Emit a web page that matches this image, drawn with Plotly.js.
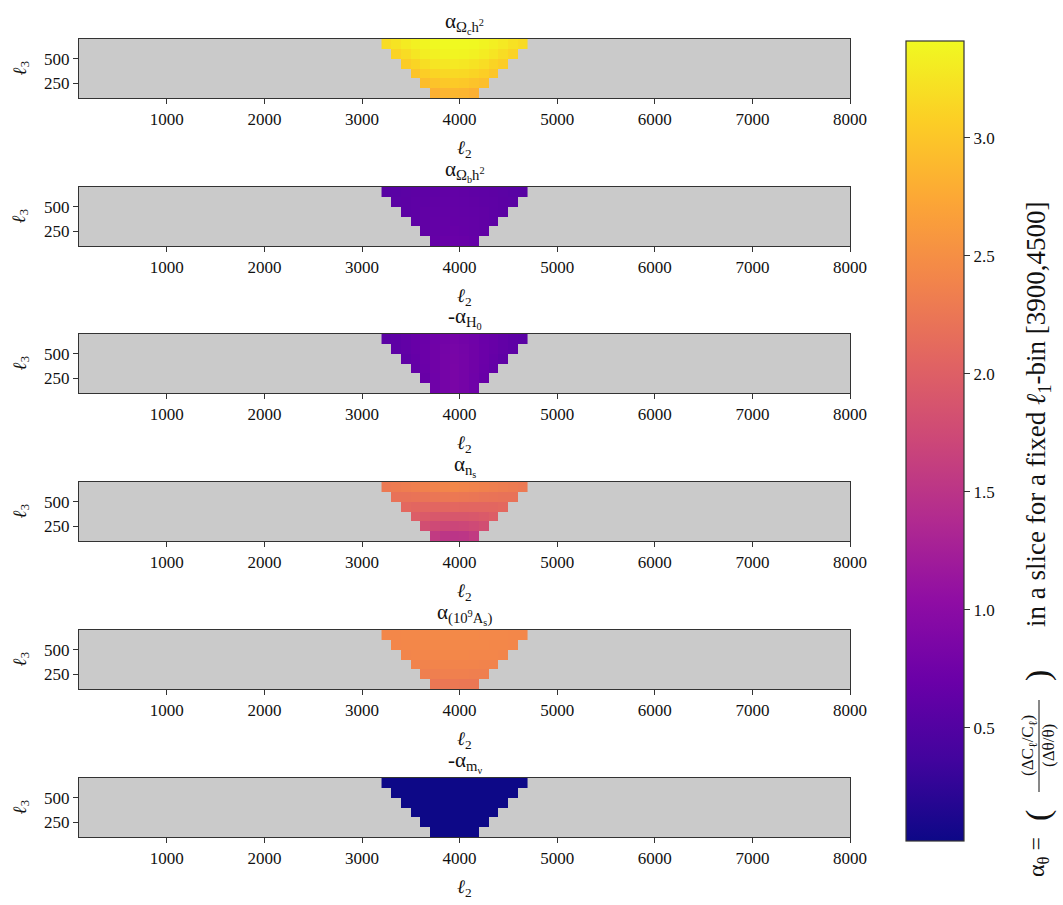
<!DOCTYPE html>
<html>
<head>
<meta charset="utf-8">
<script src="https://cdn.plot.ly/plotly-3.0.1.min.js"></script>
<style>
  html, body { margin: 0; padding: 0; background: #fff; }
  #chart { width: 1063px; height: 905px; }
</style>
</head>
<body>
<div id="chart"></div>
<script>
// l2 bin centres (bins of 100) and l3 bin centres
const L2 = [3250, 3350, 3450, 3550, 3650, 3750, 3850, 3950, 4050, 4150, 4250, 4350, 4450, 4550, 4650];
const L3 = [150, 250, 350, 450, 550, 650];
const n = null;

// alpha values, rows go l3 = 150 ... 650
const zOmegaC = [
    [n, n, n, n, n, 2.82, 2.86, 2.88, 2.86, 2.82, n, n, n, n, n],
    [n, n, n, n, 2.93, 2.98, 3.02, 3.04, 3.02, 2.98, 2.94, n, n, n, n],
    [n, n, n, 2.99, 3.06, 3.12, 3.15, 3.16, 3.15, 3.12, 3.07, 3.00, n, n, n],
    [n, n, 3.05, 3.12, 3.20, 3.25, 3.27, 3.28, 3.27, 3.24, 3.19, 3.12, 3.06, n, n],
    [n, 3.11, 3.18, 3.26, 3.32, 3.35, 3.37, 3.38, 3.37, 3.35, 3.31, 3.25, 3.18, 3.11, n],
    [3.18, 3.24, 3.30, 3.35, 3.38, 3.40, 3.41, 3.41, 3.41, 3.40, 3.37, 3.33, 3.28, 3.22, 3.17]
];
const zOmegaB = [
    [n, n, n, n, n, 0.66, 0.68, 0.69, 0.68, 0.66, n, n, n, n, n],
    [n, n, n, n, 0.62, 0.64, 0.66, 0.67, 0.66, 0.64, 0.62, n, n, n, n],
    [n, n, n, 0.60, 0.62, 0.64, 0.65, 0.66, 0.65, 0.64, 0.62, 0.60, n, n, n],
    [n, n, 0.58, 0.60, 0.62, 0.63, 0.64, 0.65, 0.64, 0.63, 0.62, 0.60, 0.58, n, n],
    [n, 0.57, 0.58, 0.60, 0.61, 0.62, 0.63, 0.64, 0.63, 0.62, 0.61, 0.60, 0.58, 0.57, n],
    [0.55, 0.56, 0.57, 0.59, 0.60, 0.61, 0.62, 0.63, 0.62, 0.61, 0.60, 0.59, 0.57, 0.56, 0.55]
];
const zH0 = [
    [n, n, n, n, n, 0.74, 0.80, 0.84, 0.80, 0.74, n, n, n, n, n],
    [n, n, n, n, 0.68, 0.74, 0.80, 0.84, 0.80, 0.74, 0.68, n, n, n, n],
    [n, n, n, 0.64, 0.70, 0.75, 0.80, 0.84, 0.80, 0.75, 0.70, 0.64, n, n, n],
    [n, n, 0.61, 0.66, 0.71, 0.75, 0.80, 0.83, 0.80, 0.75, 0.71, 0.66, 0.61, n, n],
    [n, 0.60, 0.63, 0.67, 0.71, 0.75, 0.79, 0.82, 0.79, 0.75, 0.71, 0.67, 0.63, 0.60, n],
    [0.57, 0.60, 0.63, 0.67, 0.70, 0.74, 0.77, 0.80, 0.77, 0.74, 0.70, 0.67, 0.63, 0.60, 0.57]
];
const zNs = [
    [n, n, n, n, n, 1.58, 1.52, 1.50, 1.52, 1.58, n, n, n, n, n],
    [n, n, n, n, 1.80, 1.75, 1.71, 1.70, 1.71, 1.75, 1.80, n, n, n, n],
    [n, n, n, 1.98, 1.94, 1.91, 1.90, 1.90, 1.90, 1.91, 1.94, 1.98, n, n, n],
    [n, n, 2.10, 2.08, 2.07, 2.07, 2.08, 2.09, 2.08, 2.07, 2.07, 2.08, 2.10, n, n],
    [n, 2.20, 2.20, 2.21, 2.22, 2.24, 2.26, 2.27, 2.26, 2.24, 2.22, 2.21, 2.20, 2.20, n],
    [2.28, 2.30, 2.32, 2.34, 2.36, 2.38, 2.40, 2.42, 2.40, 2.38, 2.36, 2.34, 2.32, 2.30, 2.28]
];
const zAs = [
    [n, n, n, n, n, 2.26, 2.26, 2.27, 2.26, 2.26, n, n, n, n, n],
    [n, n, n, n, 2.34, 2.34, 2.35, 2.35, 2.35, 2.34, 2.34, n, n, n, n],
    [n, n, n, 2.38, 2.38, 2.39, 2.39, 2.39, 2.39, 2.39, 2.38, 2.38, n, n, n],
    [n, n, 2.40, 2.41, 2.41, 2.41, 2.42, 2.42, 2.42, 2.41, 2.41, 2.41, 2.40, n, n],
    [n, 2.41, 2.42, 2.42, 2.43, 2.43, 2.43, 2.43, 2.43, 2.43, 2.43, 2.42, 2.42, 2.41, n],
    [2.42, 2.42, 2.43, 2.43, 2.43, 2.44, 2.44, 2.44, 2.44, 2.44, 2.43, 2.43, 2.43, 2.42, 2.42]
];
const zMnu = [
    [n, n, n, n, n, 0.02, 0.02, 0.02, 0.02, 0.02, n, n, n, n, n],
    [n, n, n, n, 0.02, 0.02, 0.02, 0.02, 0.02, 0.02, 0.02, n, n, n, n],
    [n, n, n, 0.02, 0.02, 0.02, 0.02, 0.02, 0.02, 0.02, 0.02, 0.02, n, n, n],
    [n, n, 0.02, 0.02, 0.02, 0.02, 0.02, 0.02, 0.02, 0.02, 0.02, 0.02, 0.02, n, n],
    [n, 0.02, 0.02, 0.02, 0.02, 0.02, 0.02, 0.02, 0.02, 0.02, 0.02, 0.02, 0.02, 0.02, n],
    [0.02, 0.02, 0.02, 0.02, 0.02, 0.02, 0.02, 0.02, 0.02, 0.02, 0.02, 0.02, 0.02, 0.02, 0.02]
];

const panelZ = [zOmegaC, zOmegaB, zH0, zNs, zAs, zMnu];
const panelTitles = [
    'α<sub>Ω<sub>c</sub>h<sup>2</sup></sub>',
    'α<sub>Ω<sub>b</sub>h<sup>2</sup></sub>',
    '-α<sub>H<sub>0</sub></sub>',
    'α<sub>n<sub>s</sub></sub>',
    'α<sub>(10<sup>9</sup>A<sub>s</sub>)</sub>',
    '-α<sub>m<sub>ν</sub></sub>'
];
const xTicks = [1000, 2000, 3000, 4000, 5000, 6000, 7000, 8000];
const yTicks = [250, 500];
const cbTicks = [0.5, 1.0, 1.5, 2.0, 2.5, 3.0];

// matplotlib plasma
const PLASMA = [
    [0.0, '#0d0887'], [0.1, '#41049d'], [0.2, '#6a00a8'], [0.3, '#8f0da4'],
    [0.4, '#b12a90'], [0.5, '#cc4778'], [0.6, '#e16462'], [0.7, '#f2844b'],
    [0.8, '#fca636'], [0.9, '#fcce25'], [1.0, '#f0f921']
];

const W = 1063, H = 905;
const SERIF = 'Liberation Serif, DejaVu Serif, serif';
const plotLeft = 79, plotRight = 850;
const panelTops = [39, 187, 334, 482, 630, 778];
const panelH = 59;
const px = v => v / W, py = v => 1 - v / H;

const traces = [];
const layout = {
    width: W, height: H,
    margin: { l: 0, r: 0, t: 0, b: 0 },
    paper_bgcolor: '#ffffff',
    font: { family: SERIF, size: 17, color: '#111' },
    showlegend: false,
    coloraxis: {
        colorscale: PLASMA,
        cmin: 0.02, cmax: 3.41,
        colorbar: {
            x: px(906), xanchor: 'left',
            y: py(841), yanchor: 'bottom',
            len: 800, lenmode: 'pixels',
            thickness: 58, thicknessmode: 'pixels',
            outlinewidth: 1.2, outlinecolor: '#333',
            ticks: 'outside', ticklen: 6, tickcolor: '#333',
            tickvals: cbTicks,
            ticktext: cbTicks.map(v => v.toFixed(1)),
            tickfont: { family: SERIF, size: 17, color: '#111' },
            xpad: 0, ypad: 0
        }
    },
    annotations: [],
    shapes: []
};

panelZ.forEach((z, i) => {
    const k = i === 0 ? '' : String(i + 1);
    traces.push({
        type: 'heatmap',
        x: L2, y: L3, z: z,
        coloraxis: 'coloraxis',
        xaxis: 'x' + k, yaxis: 'y' + k,
        hoverongaps: false
    });
    const top = panelTops[i], bottom = top + panelH;
    layout['xaxis' + k] = {
        domain: [px(plotLeft), px(plotRight)],
        range: [100, 8000],
        anchor: 'y' + k,
        tickvals: xTicks,
        ticks: 'outside', ticklen: 5, tickcolor: '#333',
        showline: true, mirror: true, linecolor: '#333', linewidth: 1.2,
        showgrid: false, zeroline: false,
        tickfont: { family: SERIF, size: 17 }
    };
    layout['yaxis' + k] = {
        domain: [py(bottom), py(top)],
        range: [100, 700],
        anchor: 'x' + k,
        tickvals: yTicks,
        ticks: 'outside', ticklen: 5, tickcolor: '#333',
        showline: true, mirror: true, linecolor: '#333', linewidth: 1.2,
        showgrid: false, zeroline: false,
        tickfont: { family: SERIF, size: 17 }
    };
    // grey panel background where there is no data
    layout.shapes.push({
        type: 'rect', xref: 'paper', yref: 'paper', layer: 'below',
        x0: px(plotLeft), x1: px(plotRight), y0: py(bottom), y1: py(top),
        fillcolor: '#cacaca', line: { width: 0 }
    });
    layout.annotations.push(
        {   // panel title
            xref: 'paper', yref: 'paper',
            x: px((plotLeft + plotRight) / 2), y: py(top),
            xanchor: 'center', yanchor: 'bottom', yshift: 0,
            text: panelTitles[i], showarrow: false,
            font: { family: SERIF, size: 21 }
        },
        {   // x title
            xref: 'paper', yref: 'paper',
            x: px((plotLeft + plotRight) / 2), y: py(bottom + 51),
            xanchor: 'center', yanchor: 'middle',
            text: '<i>ℓ</i><sub>2</sub>', showarrow: false,
            font: { family: SERIF, size: 19 }
        },
        {   // y title
            xref: 'paper', yref: 'paper',
            x: px(20), y: py(top + panelH / 2),
            xanchor: 'center', yanchor: 'middle', textangle: -90,
            text: '<i>ℓ</i><sub>3</sub>', showarrow: false,
            font: { family: SERIF, size: 19 }
        }
    );
});

// colourbar label: alpha_theta = ( fraction ) in a slice ...
const cbX = 1038;
layout.annotations.push(
    {
        xref: 'paper', yref: 'paper', x: px(cbX), y: py(857),
        xanchor: 'center', yanchor: 'middle', textangle: -90, showarrow: false,
        text: 'α<sub>θ</sub> =', font: { family: SERIF, size: 24 }
    },
    {
        xref: 'paper', yref: 'paper', x: px(cbX), y: py(816),
        xanchor: 'center', yanchor: 'middle', textangle: -90, showarrow: false,
        text: '(', font: { family: SERIF, size: 34 }
    },
    {
        xref: 'paper', yref: 'paper', x: px(cbX - 9), y: py(746),
        xanchor: 'center', yanchor: 'middle', textangle: -90, showarrow: false,
        text: '(ΔC<sub>ℓ</sub>/C<sub>ℓ</sub>)', font: { family: SERIF, size: 17 }
    },
    {
        xref: 'paper', yref: 'paper', x: px(cbX + 10), y: py(746),
        xanchor: 'center', yanchor: 'middle', textangle: -90, showarrow: false,
        text: '(Δθ/θ)', font: { family: SERIF, size: 17 }
    },
    {
        xref: 'paper', yref: 'paper', x: px(cbX), y: py(676),
        xanchor: 'center', yanchor: 'middle', textangle: -90, showarrow: false,
        text: ')', font: { family: SERIF, size: 34 }
    },
    {
        xref: 'paper', yref: 'paper', x: px(cbX), y: py(414),
        xanchor: 'center', yanchor: 'middle', textangle: -90, showarrow: false,
        text: 'in a slice for a fixed <i>ℓ</i><sub>1</sub>-bin [3900,4500]',
        font: { family: SERIF, size: 27 }
    }
);
layout.shapes.push({
    type: 'line', xref: 'paper', yref: 'paper',
    x0: px(cbX + 1), x1: px(cbX + 1), y0: py(700), y1: py(792),
    line: { color: '#111', width: 1 }
});

Plotly.newPlot('chart', traces, layout, { displayModeBar: false, staticPlot: true });
</script>
</body>
</html>
